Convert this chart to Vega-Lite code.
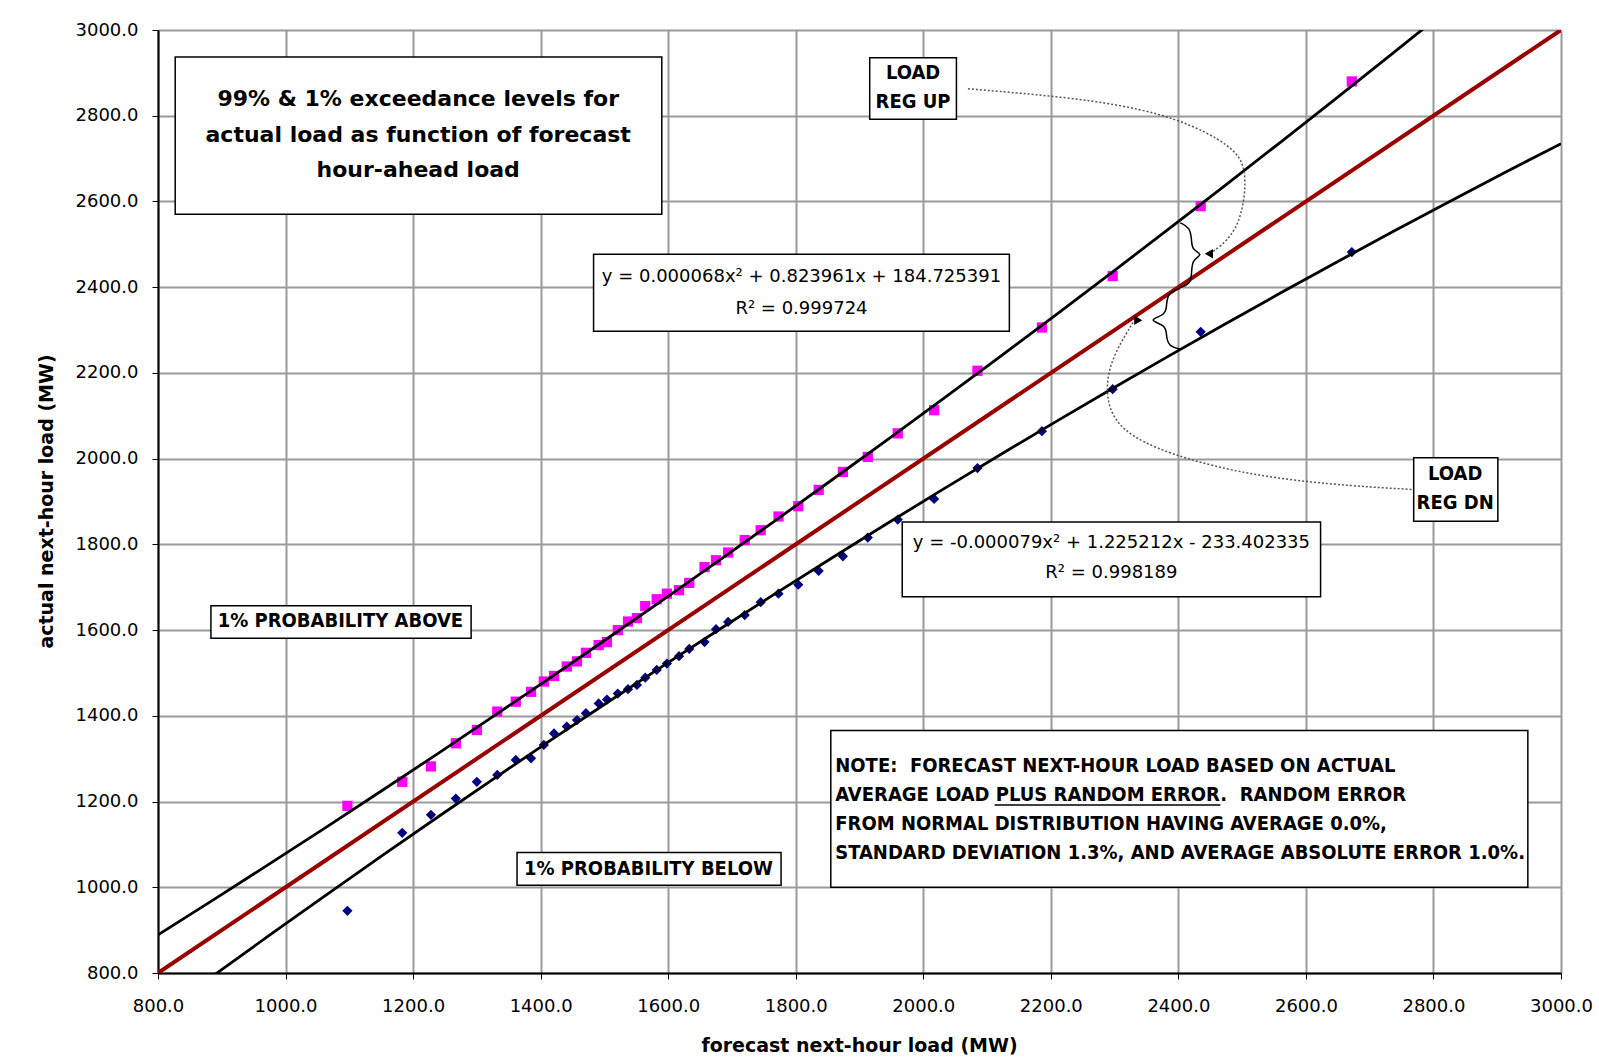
{
  "$schema": "https://vega.github.io/schema/vega-lite/v6.json",
  "width": 1403,
  "height": 943,
  "autosize": "none",
  "padding": {"left": 158, "top": 30, "right": 38, "bottom": 91},
  "background": "#ffffff",
  "config": {
    "view": {"stroke": null},
    "axis": {
      "grid": true,
      "gridColor": "#9a9a9a",
      "gridWidth": 2,
      "domainColor": "#000000",
      "domainWidth": 2,
      "tickColor": "#000000",
      "tickSize": 6,
      "labelFont": "DejaVu Sans",
      "labelFontSize": 18,
      "labelColor": "#000000",
      "labelFlush": false,
      "labelOverlap": false,
      "titleFont": "DejaVu Sans",
      "titleFontSize": 19,
      "titleFontWeight": "bold",
      "titleColor": "#000000"
    }
  },
  "datasets": {
    "points": [
      {"fx":1097,"fy":1190,"band":"upper"},{"fx":1097,"fy":945,"band":"lower"},
      {"fx":1183,"fy":1246,"band":"upper"},{"fx":1183,"fy":1127,"band":"lower"},
      {"fx":1228,"fy":1282,"band":"upper"},{"fx":1228,"fy":1169,"band":"lower"},
      {"fx":1267,"fy":1336,"band":"upper"},{"fx":1267,"fy":1207,"band":"lower"},
      {"fx":1300,"fy":1367,"band":"upper"},{"fx":1300,"fy":1246,"band":"lower"},
      {"fx":1332,"fy":1410,"band":"upper"},{"fx":1332,"fy":1262,"band":"lower"},
      {"fx":1361,"fy":1433,"band":"upper"},{"fx":1361,"fy":1297,"band":"lower"},
      {"fx":1385,"fy":1456,"band":"upper"},{"fx":1385,"fy":1301,"band":"lower"},
      {"fx":1405,"fy":1480,"band":"upper"},{"fx":1405,"fy":1332,"band":"lower"},
      {"fx":1421,"fy":1493,"band":"upper"},{"fx":1421,"fy":1359,"band":"lower"},
      {"fx":1441,"fy":1515,"band":"upper"},{"fx":1441,"fy":1375,"band":"lower"},
      {"fx":1457,"fy":1527,"band":"upper"},{"fx":1457,"fy":1390,"band":"lower"},
      {"fx":1471,"fy":1547,"band":"upper"},{"fx":1471,"fy":1406,"band":"lower"},
      {"fx":1491,"fy":1565,"band":"upper"},{"fx":1491,"fy":1429,"band":"lower"},
      {"fx":1504,"fy":1572,"band":"upper"},{"fx":1504,"fy":1438,"band":"lower"},
      {"fx":1521,"fy":1600,"band":"upper"},{"fx":1521,"fy":1452,"band":"lower"},
      {"fx":1537,"fy":1620,"band":"upper"},{"fx":1537,"fy":1462,"band":"lower"},
      {"fx":1551,"fy":1628,"band":"upper"},{"fx":1551,"fy":1472,"band":"lower"},
      {"fx":1564,"fy":1656,"band":"upper"},{"fx":1564,"fy":1489,"band":"lower"},
      {"fx":1582,"fy":1672,"band":"upper"},{"fx":1582,"fy":1507,"band":"lower"},
      {"fx":1598,"fy":1685,"band":"upper"},{"fx":1598,"fy":1522,"band":"lower"},
      {"fx":1617,"fy":1693,"band":"upper"},{"fx":1617,"fy":1539,"band":"lower"},
      {"fx":1633,"fy":1710,"band":"upper"},{"fx":1633,"fy":1556,"band":"lower"},
      {"fx":1657,"fy":1747,"band":"upper"},{"fx":1657,"fy":1572,"band":"lower"},
      {"fx":1675,"fy":1763,"band":"upper"},{"fx":1675,"fy":1602,"band":"lower"},
      {"fx":1694,"fy":1781,"band":"upper"},{"fx":1694,"fy":1619,"band":"lower"},
      {"fx":1720,"fy":1810,"band":"upper"},{"fx":1720,"fy":1635,"band":"lower"},
      {"fx":1745,"fy":1833,"band":"upper"},{"fx":1745,"fy":1665,"band":"lower"},
      {"fx":1773,"fy":1865,"band":"upper"},{"fx":1773,"fy":1685,"band":"lower"},
      {"fx":1804,"fy":1889,"band":"upper"},{"fx":1804,"fy":1706,"band":"lower"},
      {"fx":1836,"fy":1927,"band":"upper"},{"fx":1836,"fy":1738,"band":"lower"},
      {"fx":1874,"fy":1969,"band":"upper"},{"fx":1874,"fy":1772,"band":"lower"},
      {"fx":1913,"fy":2004,"band":"upper"},{"fx":1913,"fy":1816,"band":"lower"},
      {"fx":1960,"fy":2059,"band":"upper"},{"fx":1960,"fy":1858,"band":"lower"},
      {"fx":2017,"fy":2113,"band":"upper"},{"fx":2017,"fy":1906,"band":"lower"},
      {"fx":2085,"fy":2205,"band":"upper"},{"fx":2085,"fy":1978,"band":"lower"},
      {"fx":2186,"fy":2306,"band":"upper"},{"fx":2186,"fy":2064,"band":"lower"},
      {"fx":2297,"fy":2426,"band":"upper"},{"fx":2297,"fy":2162,"band":"lower"},
      {"fx":2435,"fy":2589,"band":"upper"},{"fx":2435,"fy":2296,"band":"lower"},
      {"fx":2672,"fy":2880,"band":"upper"},{"fx":2672,"fy":2482,"band":"lower"}
    ],
    "diag": [{"fx":800,"fy":800},{"fx":3000,"fy":3000}],
    "boxes": [
      {"fx":827,"fx2":1590,"fy":2937,"fy2":2570},
      {"fx":1916,"fx2":2052,"fy":2935,"fy2":2792},
      {"fx":2769,"fx2":2901,"fy":2002,"fy2":1854},
      {"fx":1483,"fx2":2135,"fy":2477,"fy2":2297},
      {"fx":1967,"fx2":2623,"fy":1852,"fy2":1678},
      {"fx":883,"fx2":1291,"fy":1657,"fy2":1581},
      {"fx":1363,"fx2":1777,"fy":1081,"fy2":1005},
      {"fx":1855,"fx2":2948,"fy":1366,"fy2":1000}
    ],
    "titleText": [
      {"fx":1208,"fy":2839,"label":"99% & 1% exceedance levels for"},
      {"fx":1208,"fy":2756,"label":"actual load as function of forecast"},
      {"fx":1208,"fy":2673,"label":"hour-ahead load"}
    ],
    "eqText": [
      {"fx":1809,"fy":2423,"label":"y = 0.000068x² + 0.823961x + 184.725391"},
      {"fx":1809,"fy":2349,"label":"R² = 0.999724"},
      {"fx":2295,"fy":1804,"label":"y = -0.000079x² + 1.225212x - 233.402335"},
      {"fx":2295,"fy":1733,"label":"R² = 0.998189"}
    ],
    "tagText": [
      {"fx":1984,"fy":2899,"label":"LOAD"},
      {"fx":1984,"fy":2832,"label":"REG UP"},
      {"fx":2834,"fy":1964,"label":"LOAD"},
      {"fx":2834,"fy":1897,"label":"REG DN"},
      {"fx":1086,"fy":1621,"label":"1% PROBABILITY ABOVE"},
      {"fx":1569,"fy":1043,"label":"1% PROBABILITY BELOW"}
    ],
    "noteText": [
      {"fx":1862,"fy":1282,"label":"NOTE:\u00a0 FORECAST NEXT-HOUR LOAD BASED ON ACTUAL"},
      {"fx":1862,"fy":1215,"label":"AVERAGE LOAD PLUS RANDOM ERROR.\u00a0 RANDOM ERROR"},
      {"fx":1862,"fy":1148,"label":"FROM NORMAL DISTRIBUTION HAVING AVERAGE 0.0%,"},
      {"fx":1862,"fy":1081,"label":"STANDARD DEVIATION 1.3%, AND AVERAGE ABSOLUTE ERROR 1.0%."}
    ],
    "underline": [{"fx":2112,"fy":1192},{"fx":2466,"fy":1192}],
    "curves": [
      {"id":"up","ord":1,"fx":2070,"fy":2863},
      {"id":"up","ord":2,"fx":2277,"fy":2837},
      {"id":"up","ord":3,"fx":2403,"fy":2794},
      {"id":"up","ord":4,"fx":2486,"fy":2728},
      {"id":"up","ord":5,"fx":2505,"fy":2681},
      {"id":"up","ord":6,"fx":2505,"fy":2611},
      {"id":"up","ord":7,"fx":2492,"fy":2533},
      {"id":"up","ord":8,"fx":2463,"fy":2491},
      {"id":"up","ord":9,"fx":2450,"fy":2480},
      {"id":"dn","ord":1,"fx":2329,"fy":2318},
      {"id":"dn","ord":2,"fx":2293,"fy":2230},
      {"id":"dn","ord":3,"fx":2285,"fy":2149},
      {"id":"dn","ord":4,"fx":2301,"fy":2079},
      {"id":"dn","ord":5,"fx":2356,"fy":2025},
      {"id":"dn","ord":6,"fx":2486,"fy":1967},
      {"id":"dn","ord":7,"fx":2638,"fy":1939},
      {"id":"dn","ord":8,"fx":2768,"fy":1928}
    ],
    "braces": [
      {"id":"up","ord":1,"fx":2403,"fy":2550},
      {"id":"up","ord":2,"fx":2418,"fy":2540},
      {"id":"up","ord":3,"fx":2421,"fy":2510},
      {"id":"up","ord":4,"fx":2421,"fy":2487},
      {"id":"up","ord":5,"fx":2440,"fy":2476},
      {"id":"up","ord":6,"fx":2421,"fy":2465},
      {"id":"up","ord":7,"fx":2421,"fy":2428},
      {"id":"up","ord":8,"fx":2418,"fy":2407},
      {"id":"up","ord":9,"fx":2403,"fy":2399},
      {"id":"dn","ord":1,"fx":2403,"fy":2397},
      {"id":"dn","ord":2,"fx":2384,"fy":2388},
      {"id":"dn","ord":3,"fx":2381,"fy":2358},
      {"id":"dn","ord":4,"fx":2381,"fy":2335},
      {"id":"dn","ord":5,"fx":2350,"fy":2323},
      {"id":"dn","ord":6,"fx":2381,"fy":2312},
      {"id":"dn","ord":7,"fx":2381,"fy":2288},
      {"id":"dn","ord":8,"fx":2384,"fy":2263},
      {"id":"dn","ord":9,"fx":2403,"fy":2255}
    ],
    "arrows": [
      {"fx":2450,"fy":2478,"dir":"left"},
      {"fx":2335,"fy":2323,"dir":"right"}
    ]
  },
  "encoding": {
    "x": {
      "field": "fx", "type": "quantitative",
      "scale": {"domain": [800, 3000], "nice": false, "zero": false},
      "axis": {"values": [800,1000,1200,1400,1600,1800,2000,2200,2400,2600,2800,3000], "format": ".1f", "labelPadding": 18, "title": "forecast next-hour load (MW)", "titleX": 701, "titleY": 72, "titleBaseline": "middle"}
    },
    "y": {
      "field": "fy", "type": "quantitative",
      "scale": {"domain": [800, 3000], "nice": false, "zero": false},
      "axis": {"values": [800,1000,1200,1400,1600,1800,2000,2200,2400,2600,2800,3000], "format": ".1f", "labelPadding": 14, "title": "actual next-hour load (MW)", "titleX": -112, "titleY": 471, "titleAngle": 270, "titleAlign": "center", "titleBaseline": "middle"}
    }
  },
  "layer": [
    {
      "data": {"name": "diag"},
      "mark": {"type": "line", "color": "#990000", "strokeWidth": 4, "clip": true}
    },
    {
      "data": {"name": "points"},
      "mark": {"type": "point", "filled": true, "opacity": 1, "size": 105},
      "encoding": {
        "shape": {"field": "band", "type": "nominal", "scale": {"domain": ["upper","lower"], "range": ["square","diamond"]}, "legend": null},
        "color": {"field": "band", "type": "nominal", "scale": {"domain": ["upper","lower"], "range": ["#ff00ff","#000080"]}, "legend": null}
      }
    },
    {
      "data": {"name": "points"},
      "transform": [
        {"regression": "fy", "on": "fx", "groupby": ["band"], "method": "poly", "order": 2, "extent": [800, 3000]}
      ],
      "mark": {"type": "line", "color": "#000000", "strokeWidth": 2.8, "clip": true},
      "encoding": {"detail": {"field": "band", "type": "nominal"}}
    },
    {
      "data": {"name": "curves"},
      "mark": {"type": "line", "color": "#555555", "strokeWidth": 1.5, "strokeDash": [2, 2], "interpolate": "basis"},
      "encoding": {"detail": {"field": "id", "type": "nominal"}, "order": {"field": "ord", "type": "quantitative"}}
    },
    {
      "data": {"name": "braces"},
      "mark": {"type": "line", "color": "#000000", "strokeWidth": 1.5, "interpolate": "basis"},
      "encoding": {"detail": {"field": "id", "type": "nominal"}, "order": {"field": "ord", "type": "quantitative"}}
    },
    {
      "data": {"name": "arrows"},
      "transform": [{"filter": "datum.dir === 'left'"}],
      "mark": {"type": "point", "filled": true, "opacity": 1, "size": 90, "color": "#000000", "shape": "triangle", "angle": 270}
    },
    {
      "data": {"name": "arrows"},
      "transform": [{"filter": "datum.dir === 'right'"}],
      "mark": {"type": "point", "filled": true, "opacity": 1, "size": 90, "color": "#000000", "shape": "triangle", "angle": 90}
    },
    {
      "data": {"name": "boxes"},
      "mark": {"type": "rect", "fill": "#ffffff", "stroke": "#000000", "strokeWidth": 1.5},
      "encoding": {"x2": {"field": "fx2"}, "y2": {"field": "fy2"}}
    },
    {
      "data": {"name": "titleText"},
      "mark": {"type": "text", "font": "DejaVu Sans", "fontWeight": "bold", "fontSize": 22, "align": "center", "baseline": "middle", "color": "#000000"},
      "encoding": {"text": {"field": "label"}}
    },
    {
      "data": {"name": "eqText"},
      "mark": {"type": "text", "font": "DejaVu Sans", "fontSize": 18, "align": "center", "baseline": "middle", "color": "#000000"},
      "encoding": {"text": {"field": "label"}}
    },
    {
      "data": {"name": "tagText"},
      "mark": {"type": "text", "font": "'Liberation Sans Narrow', 'DejaVu Sans Condensed', 'Liberation Sans', sans-serif", "fontWeight": "bold", "fontSize": 20, "align": "center", "baseline": "middle", "color": "#000000"},
      "encoding": {"text": {"field": "label"}}
    },
    {
      "data": {"name": "noteText"},
      "mark": {"type": "text", "font": "'Liberation Sans Narrow', 'DejaVu Sans Condensed', 'Liberation Sans', sans-serif", "fontWeight": "bold", "fontSize": 20, "align": "left", "baseline": "middle", "color": "#000000"},
      "encoding": {"text": {"field": "label"}}
    },
    {
      "data": {"name": "underline"},
      "mark": {"type": "line", "color": "#000000", "strokeWidth": 1.5}
    }
  ]
}
